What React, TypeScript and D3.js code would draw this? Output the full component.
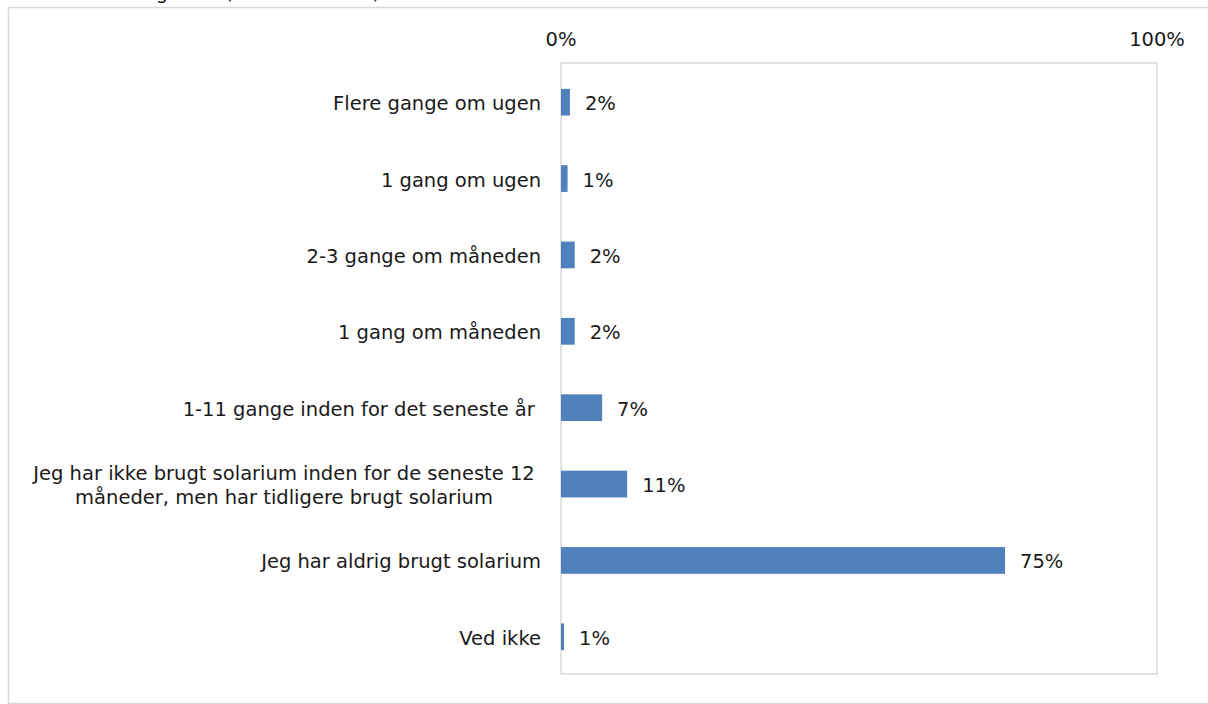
import React from "react";
import * as d3 from "d3";

const categories: string[][] = [
  ["Flere gange om ugen"],
  ["1 gang om ugen"],
  ["2-3 gange om måneden"],
  ["1 gang om måneden"],
  ["1-11 gange inden for det seneste år "],
  ["Jeg har ikke brugt solarium inden for de seneste 12", "måneder, men har tidligere brugt solarium"],
  ["Jeg har aldrig brugt solarium"],
  ["Ved ikke"],
];
const values: number[] = [1.5, 1.1, 2.3, 2.3, 6.9, 11.1, 74.5, 0.5];
const xTicks: number[] = [0, 100];
const titleText = "Andel med solariebrug total (n = 1.003 i alt)";

const W = 1208;
const H = 704;
const FONT = "'DejaVu Sans', sans-serif";
const FS = 19.5;

export default function App() {
  const plot = { left: 561, right: 1157, top: 63, bottom: 674 };
  const x = d3.scaleLinear().domain([0, 100]).range([plot.left, plot.right]);
  const y = d3
    .scaleBand<number>()
    .domain(d3.range(categories.length))
    .range([plot.top + 1, plot.bottom + 1])
    .paddingInner(0.65)
    .paddingOuter(0.325);
  const bw = y.bandwidth();
  const fmt = (v: number) => `${Math.round(v)}%`;

  return (
    <svg
      width={W}
      height={H}
      style={{ position: "absolute", left: 0, top: 0, display: "block" }}
      fontFamily={FONT}
    >
      <rect x={0} y={0} width={W} height={H} fill="#fff" />
      <text x={380} y={-1} textAnchor="end" fontSize={FS} fill="#1a1a1a">
        {titleText}
      </text>
      <rect x={8.5} y={7.5} width={1210} height={696} fill="none" stroke="#d9d9d9" strokeWidth={1.5} />
      <rect
        x={plot.left}
        y={plot.top}
        width={plot.right - plot.left}
        height={plot.bottom - plot.top}
        fill="none"
        stroke="#d9d9d9"
        strokeWidth={1.5}
      />
      {xTicks.map((t) => (
        <text key={t} x={x(t)} y={39} textAnchor="middle" dominantBaseline="central" fontSize={FS} fill="#1a1a1a">
          {`${t}%`}
        </text>
      ))}
      {values.map((v, i) => {
        const y0 = y(i)!;
        const cy = y0 + bw / 2 + 1.5;
        const lines = categories[i];
        const lh = 24;
        return (
          <g key={i}>
            <rect x={x(0)} y={y0} width={x(v) - x(0)} height={bw} fill="#4f81bd" />
            <text x={x(v) + 15} y={cy} dominantBaseline="central" fontSize={FS} fill="#1a1a1a">
              {fmt(v)}
            </text>
            {lines.length === 1 ? (
              <text
                x={541}
                y={cy}
                textAnchor="end"
                dominantBaseline="central"
                fontSize={FS}
                fill="#1a1a1a"
                style={{ whiteSpace: "pre" }}
              >
                {lines[0]}
              </text>
            ) : (
              lines.map((ln, k) => (
                <text
                  key={k}
                  x={284}
                  y={cy + (k - (lines.length - 1) / 2) * lh}
                  textAnchor="middle"
                  dominantBaseline="central"
                  fontSize={FS}
                  fill="#1a1a1a"
                >
                  {ln}
                </text>
              ))
            )}
          </g>
        );
      })}
    </svg>
  );
}
